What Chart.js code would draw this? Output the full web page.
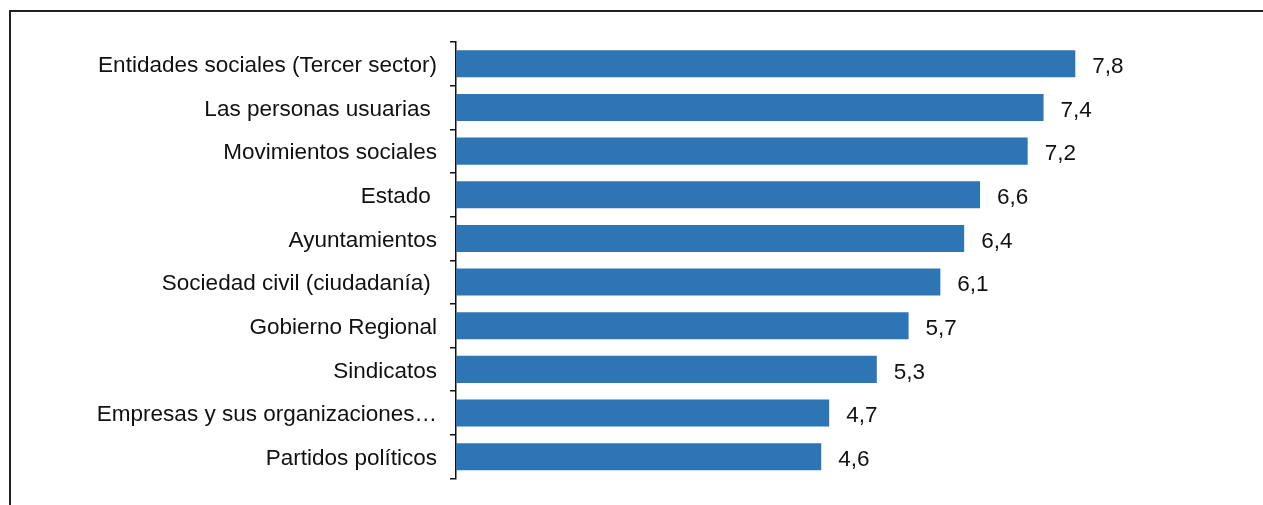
<!DOCTYPE html>
<html>
<head>
<meta charset="utf-8">
<script src="https://cdn.jsdelivr.net/npm/chart.js@4/dist/chart.umd.min.js"></script>
<style>
html,body{margin:0;padding:0;background:#fff;}
.wrap{position:relative;width:1263px;height:505px;}
.frame{position:absolute;left:9px;top:10px;right:0;bottom:0;border-top:2px solid #222;border-left:2px solid #222;pointer-events:none;}
canvas{position:absolute;left:0;top:0;}
</style>
</head>
<body>
<div class="wrap">
  <canvas id="chart" width="1263" height="505"></canvas>
  <div class="frame"></div>
</div>
<script>
// categorias y valores
const categories = [
  'Entidades sociales (Tercer sector)',
  'Las personas usuarias ',
  'Movimientos sociales',
  'Estado ',
  'Ayuntamientos',
  'Sociedad civil (ciudadanía) ',
  'Gobierno Regional',
  'Sindicatos',
  'Empresas y sus organizaciones…',
  'Partidos políticos'
];
const values = [7.8, 7.4, 7.2, 6.6, 6.4, 6.1, 5.7, 5.3, 4.7, 4.6];
const barColor = '#2e75b6';

const FONT = 'Liberation Sans, Arial, sans-serif';
const FSIZE = 22.5;

// etiquetas de valor al final de cada barra
const valueLabels = {
  id: 'valueLabels',
  afterDatasetsDraw(chart){
    const ctx = chart.ctx;
    const meta = chart.getDatasetMeta(0);
    ctx.save();
    ctx.font = FSIZE + 'px ' + FONT;
    ctx.fillStyle = '#111';
    ctx.textAlign = 'left';
    ctx.textBaseline = 'middle';
    meta.data.forEach((bar, i) => {
      const txt = values[i].toFixed(1).replace('.', ',');
      ctx.fillText(txt, bar.x + 17, bar.y + 3);
    });
    ctx.restore();
  }
};

new Chart(document.getElementById('chart'), {
  type: 'bar',
  data: {
    labels: categories,
    datasets: [{
      data: values,
      backgroundColor: barColor,
      borderWidth: 0,
      categoryPercentage: 1,
      barPercentage: 0.62
    }]
  },
  options: {
    indexAxis: 'y',
    responsive: false,
    animation: false,
    layout: {padding: {left: 0, right: 13, top: 42, bottom: 26}},
    plugins: {legend: {display: false}, tooltip: {enabled: false}},
    scales: {
      x: {display: false, min: 0, max: 10},
      y: {
        afterFit: s => { s.width = 456; },
        border: {display: true, color: '#111', width: 1.5},
        grid: {offset: true, drawOnChartArea: false, color: '#111', tickLength: 6, lineWidth: 1.5},
        ticks: {color: '#111', font: {family: FONT, size: FSIZE}, padding: 13, labelOffset: 2, autoSkip: false}
      }
    }
  },
  plugins: [valueLabels]
});
</script>
</body>
</html>
